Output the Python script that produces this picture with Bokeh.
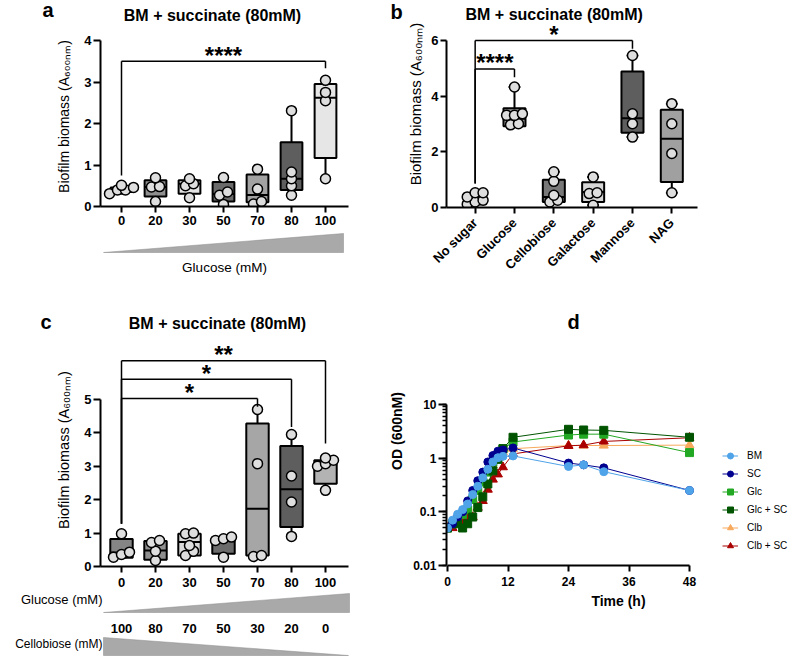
import math
from bokeh.plotting import figure
from bokeh.layouts import column, row
from bokeh.models import (ColumnDataSource, Range1d, FixedTicker, Label, Legend, LegendItem,
                          NumeralTickFormatter)
from bokeh.embed import file_html
from bokeh.resources import INLINE

# ---------------------------------------------------------------- data
TITLE = "BM + succinate (80mM)"
YLABEL = "Biofilm biomass (A\u2086\u2080\u2080\u2099\u2098)"

# panel a : glucose series
a_labels = ["0", "20", "30", "50", "70", "80", "100"]
a_min = [0.31, 0.12, 0.21, 0.05, 0.06, 0.27, 0.67]
a_q1 = [0.35, 0.24, 0.31, 0.12, 0.10, 0.40, 1.17]
a_med = [0.40, 0.47, 0.55, 0.30, 0.28, 0.67, 2.62]
a_q3 = [0.46, 0.63, 0.63, 0.59, 0.77, 1.55, 2.95]
a_max = [0.51, 0.69, 0.67, 0.70, 0.90, 2.31, 3.04]
a_points = [[0.31, 0.40, 0.40, 0.46, 0.51], [0.12, 0.47, 0.48, 0.69],
            [0.21, 0.50, 0.55, 0.67], [0.05, 0.27, 0.35, 0.70],
            [0.06, 0.12, 0.42, 0.90], [0.27, 0.50, 0.67, 0.83, 2.31],
            [0.67, 2.55, 2.75, 3.04]]
a_fill = ["#c8c8c8", "#8f8f8f", "#e3e3e3", "#6b6b6b", "#a3a3a3", "#5e5e5e", "#e6e6e6"]
a_brackets = [(0, 6, 3.50, 0.75, 3.33, "****")]   # from, to, level, left end, right end, text
a_xlabel = "Glucose (mM)"

# panel b : sugars
b_labels = ["No sugar", "Glucose", "Cellobiose", "Galactose", "Mannose", "NAG"]
b_min = [0.12, 2.97, 0.20, 0.08, 2.53, 0.53]
b_q1 = [0.12, 2.92, 0.20, 0.20, 2.69, 0.92]
b_med = [0.29, 3.19, 0.38, 0.56, 3.21, 2.47]
b_q3 = [0.50, 3.57, 1.00, 0.91, 4.89, 3.51]
b_max = [0.53, 4.33, 1.28, 1.10, 5.46, 3.73]
b_points = [[0.12, 0.20, 0.26, 0.38, 0.53, 0.53], [2.97, 3.01, 3.31, 3.31, 3.37, 4.33],
            [0.20, 0.26, 0.44, 0.94, 1.28], [0.08, 0.50, 0.53, 1.10],
            [2.53, 3.01, 3.37, 5.46], [0.53, 1.94, 3.01, 3.73]]
b_fill = ["#6b6b6b", "#9a9a9a", "#787878", "#d6d6d6", "#5e5e5e", "#a0a0a0"]
b_brackets = [(0, 4, 6.00, 0.86, 5.70, "*"), (0, 1, 4.98, 0.86, 4.68, "****")]

# panel c : glucose / cellobiose mixtures
c_glc_labels = ["0", "20", "30", "50", "70", "80", "100"]
c_clb_labels = ["100", "80", "70", "50", "30", "20", "0"]
c_min = [0.28, 0.18, 0.33, 0.28, 0.30, 0.90, 2.28]
c_q1 = [0.26, 0.20, 0.33, 0.38, 0.33, 1.18, 2.48]
c_med = [0.42, 0.48, 0.73, 0.78, 1.73, 2.31, 3.08]
c_q3 = [0.82, 0.76, 0.98, 0.88, 4.28, 3.61, 3.18]
c_max = [0.98, 0.78, 1.00, 0.88, 4.70, 3.95, 3.25]
c_points = [[0.28, 0.36, 0.43, 0.98], [0.18, 0.46, 0.72, 0.78],
            [0.33, 0.46, 0.63, 0.98, 1.00], [0.28, 0.78, 0.83, 0.88],
            [0.30, 0.33, 3.08, 4.70], [0.90, 1.93, 2.71, 3.95],
            [2.28, 3.00, 3.08, 3.18, 3.25]]
c_fill = ["#858585", "#8f8f8f", "#d9d9d9", "#6b6b6b", "#a6a6a6", "#5e5e5e", "#b3b3b3"]
c_brackets = [(0, 4, 5.03, 1.28, 4.78, "*"), (0, 5, 5.61, 1.28, 4.18, "*"),
              (0, 6, 6.16, 1.28, 3.68, "**")]
c_glc_name = "Glucose (mM)"
c_clb_name = "Cellobiose (mM)"

# panel d : growth curves
d_time = [0, 1, 2, 3, 4, 5, 6, 7, 8, 9, 10, 11, 13, 24, 27, 31, 48]
d_BM = [0.05, 0.07, 0.09, 0.11, 0.14, 0.21, 0.30, 0.43, 0.62, 0.85, 1.02, 1.08, 1.10, 0.70, 0.75, 0.56, 0.25]
d_SC = [0.05, 0.06, 0.08, 0.10, 0.16, 0.25, 0.38, 0.55, 0.85, 1.12, 1.35, 1.42, 1.55, 0.81, 0.75, 0.66, 0.25]
d_Glc = [0.05, 0.06, 0.07, 0.09, 0.11, 0.17, 0.25, 0.36, 0.55, 0.85, 1.12, 1.50, 2.00, 2.70, 2.80, 2.80, 1.27]
d_GlcSC = [0.05, 0.06, 0.06, 0.05, 0.06, 0.08, 0.12, 0.19, 0.33, 0.58, 0.95, 1.50, 2.45, 3.45, 3.35, 3.30, 2.45]
d_Clb = [0.05, 0.06, 0.07, 0.09, 0.12, 0.17, 0.26, 0.38, 0.55, 0.75, 1.00, 1.30, 1.50, 1.72, 1.72, 1.72, 1.75]
d_ClbSC = [0.05, 0.05, 0.06, 0.06, 0.08, 0.08, 0.12, 0.16, 0.26, 0.40, 0.50, 0.68, 1.20, 1.70, 1.75, 2.05, 2.40]
d_series = [("BM", d_BM), ("SC", d_SC), ("Glc", d_Glc), ("Glc + SC", d_GlcSC),
            ("Clb", d_Clb), ("Clb + SC", d_ClbSC)]
d_xticks = [0, 12, 24, 36, 48]
d_xlabel = "Time (h)"
d_ylabel = "OD (600nM)"

# ---------------------------------------------------------------- styles / layout
FONT = "Liberation Sans"
D_STYLE = {
    "BM": ("#4fa3e8", "circle", 8),
    "SC": ("#00008f", "circle", 8),
    "Glc": ("#22a822", "square", 8),
    "Glc + SC": ("#005400", "square", 8),
    "Clb": ("#f7a95c", "triangle", 9),
    "Clb + SC": ("#aa0000", "triangle", 9),
}
D_DRAW_ORDER = ["Clb", "Clb + SC", "Glc", "Glc + SC", "SC", "BM"]
WEDGE = "#a9a9a9"

# the page is drawn from its top-left corner (the Bokeh page template has no body margin)
TOTAL_W = 790
R1_C1W = 404                 # top row: column a is wide enough to hold the "b" letter too
R2_C1W = 386
ROW1_TOP, ROW1_BOT = 0, 296
ROW2_TOP, ROW2_BOT = 296, 658


class Geo:
    """Maps page pixels <-> data for a figure whose frame sits at known page pixels."""

    def __init__(self, cx, cy, w, h, L, R, T, B, xr, yr, logy=False):
        self.cx, self.cy, self.w, self.h = cx, cy, w, h
        self.L, self.R, self.T, self.B = L, R, T, B
        self.x0, self.x1 = xr
        self.y0, self.y1 = yr
        self.logy = logy

    def borders(self):
        return dict(min_border_left=self.L - self.cx, min_border_right=self.cx + self.w - self.R,
                    min_border_top=self.T - self.cy, min_border_bottom=self.cy + self.h - self.B)

    def ppx(self):
        return (self.R - self.L) / (self.x1 - self.x0)

    def ppy(self):
        return (self.B - self.T) / (self.y1 - self.y0)

    def fx(self, px):
        return self.x0 + (px - self.L) / (self.R - self.L) * (self.x1 - self.x0)

    def sx(self, v):
        return self.L + (v - self.x0) * self.ppx()

    def fy(self, py):
        t = (self.B - py) / (self.B - self.T)
        if self.logy:
            a, b = math.log10(self.y0), math.log10(self.y1)
            return 10 ** (a + t * (b - a))
        return self.y0 + t * (self.y1 - self.y0)

    def py(self, v):
        return self.B - (v - self.y0) / (self.y1 - self.y0) * (self.B - self.T)


def from_ticks(first_px, last_px, n, L, R):
    step = (last_px - first_px) / (n - 1)
    return (-(first_px - L) / step, (n - 1) + (R - last_px) / step)


def mkfig(g, y_axis_type="linear"):
    p = figure(width=g.w, height=g.h, x_range=Range1d(g.x0, g.x1), y_range=Range1d(g.y0, g.y1),
               y_axis_type=y_axis_type, output_backend="svg", toolbar_location=None,
               title=None, frame_align=False, **g.borders())
    p.outline_line_color = None
    p.xgrid.visible = False
    p.ygrid.visible = False
    p.background_fill_color = "white"
    p.border_fill_color = "white"
    for ax in (p.xaxis[0], p.yaxis[0]):
        ax.axis_line_width = 2
        ax.axis_line_color = "black"
        ax.major_tick_line_width = 2
        ax.major_tick_line_color = "black"
        ax.major_tick_in = 0
        ax.major_tick_out = 6
        ax.minor_tick_line_color = None
        ax.major_label_text_font = FONT
        ax.major_label_text_font_style = "bold"
        ax.major_label_text_font_size = "13px"
        ax.major_label_text_color = "black"
        ax.axis_label_text_font = FONT
        ax.axis_label_text_font_style = "normal"
        ax.axis_label_text_color = "black"
    return p


def deco(cx, cy, w, h):
    """Axis-less strip whose data units are page pixels (y downwards)."""
    p = figure(width=w, height=h, x_range=Range1d(cx, cx + w), y_range=Range1d(cy + h, cy),
               x_axis_type=None, y_axis_type=None, output_backend="svg", toolbar_location=None,
               title=None, min_border=0, frame_align=False)
    p.outline_line_color = None
    p.background_fill_color = "white"
    p.border_fill_color = "white"
    return p


def text(p, x, y, txt, size, bold=False, align="left"):
    p.add_layout(Label(x=x, y=y, text=txt, text_align=align, text_baseline="middle",
                       text_font=FONT, text_font_style="bold" if bold else "normal",
                       text_font_size=size, text_color="black"))


def swarm(vals, ppx, ppy, d=8.0):
    idx = sorted(range(len(vals)), key=lambda k: vals[k])
    rows = []
    for k in idx:
        if rows and (vals[k] - vals[rows[-1][0]]) * ppy < d * 0.8:
            rows[-1].append(k)
        else:
            rows.append([k])
    offs = [0.0] * len(vals)
    for r in rows:
        m = len(r)
        for j, k in enumerate(r):
            offs[k] = (j - (m - 1) / 2) * d / ppx
    return offs


def draw_boxes(p, g, mn, q1, med, q3, mx, pts, fills, bw=0.64, cap=0.32):
    n = len(fills)
    xs = list(range(n))
    src = ColumnDataSource(dict(x=xs, left=[x - bw / 2 for x in xs], right=[x + bw / 2 for x in xs],
                                cl=[x - cap / 2 for x in xs], cr=[x + cap / 2 for x in xs],
                                mn=mn, q1=q1, med=med, q3=q3, mx=mx, fill=fills))
    p.segment(x0="x", y0="mn", x1="x", y1="q1", source=src, line_color="black", line_width=2)
    p.segment(x0="x", y0="q3", x1="x", y1="mx", source=src, line_color="black", line_width=2)
    p.segment(x0="cl", y0="mn", x1="cr", y1="mn", source=src, line_color="black", line_width=2)
    p.segment(x0="cl", y0="mx", x1="cr", y1="mx", source=src, line_color="black", line_width=2)
    p.quad(left="left", right="right", bottom="q1", top="q3", source=src, fill_color="fill",
           line_color="black", line_width=2)
    p.segment(x0="left", y0="med", x1="right", y1="med", source=src, line_color="black", line_width=2)
    px_, py_ = [], []
    for i, vals in enumerate(pts):
        offs = swarm(vals, g.ppx(), g.ppy())
        px_ += [i + o for o in offs]
        py_ += vals
    p.scatter(px_, py_, marker="circle", size=10, fill_color="#dedede", line_color="black",
              line_width=1.5)


def draw_brackets(p, g, brackets, size=24):
    for (i, j, lev, le, re, txt) in brackets:
        p.segment(x0=[i, i, j], y0=[lev, le, re], x1=[j, i, j], y1=[lev, lev, lev],
                  line_color="black", line_width=1.5)
        # asterisks sit high in their line box: put the box middle 6px above the bracket
        p.add_layout(Label(x=(i + j) / 2, y=g.fy(g.py(lev) - 6), text=txt, text_align="center",
                           text_baseline="middle", text_font=FONT, text_font_style="bold",
                           text_font_size=f"{size}px", text_color="black"))


# ---------------------------------------------------------------- panel a
A_HEAD, A_MAIN_BOT = 26, 232
a_head = deco(0, ROW1_TOP, R1_C1W, A_HEAD - ROW1_TOP)
text(a_head, 212, 15, TITLE, "16px", bold=True, align="center")
text(a_head, 42, 9, "a", "20px", bold=True)
text(a_head, 390, 11.5, "b", "20px", bold=True)

ga = Geo(0, A_HEAD, R1_C1W, A_MAIN_BOT - A_HEAD, 100, 348, A_HEAD, 206,
         from_ticks(121, 325, len(a_labels), 100, 348), (0, 4 + (40 - A_HEAD) / 41.5))
pa = mkfig(ga)
draw_boxes(pa, ga, a_min, a_q1, a_med, a_q3, a_max, a_points, a_fill, bw=0.64)
draw_brackets(pa, ga, a_brackets)
pa.xaxis.ticker = FixedTicker(ticks=list(range(len(a_labels))))
pa.xaxis.major_label_overrides = {i: s for i, s in enumerate(a_labels)}
pa.xaxis.major_label_standoff = 3
pa.yaxis.ticker = FixedTicker(ticks=[0, 1, 2, 3, 4])
pa.yaxis.bounds = (0, 4)
pa.yaxis.major_tick_out = 7
pa.yaxis.major_label_standoff = 2
pa.yaxis.axis_label = YLABEL
pa.yaxis.axis_label_text_font_size = "14px"
pa.yaxis.axis_label_standoff = 9

a_foot = deco(0, A_MAIN_BOT, R1_C1W, ROW1_BOT - A_MAIN_BOT)
a_foot.patch([ga.L + 3, ga.R - 5, ga.R - 5], [252, 233, 252], fill_color=WEDGE, line_color="#8a8a8a",
             line_width=0.5)
text(a_foot, (ga.L + ga.R) / 2, 267, a_xlabel, "13.5px", align="center")

col_a = column(a_head, pa, a_foot, spacing=0)

# ---------------------------------------------------------------- panel b
gb = Geo(R1_C1W, ROW1_TOP, TOTAL_W - R1_C1W, ROW1_BOT - ROW1_TOP, 443, 697, ROW1_TOP, 207,
         from_ticks(472, 671, len(b_labels), 443, 697), (0, 6 + (40 - ROW1_TOP) / 27.83))
pb = mkfig(gb)
draw_boxes(pb, gb, b_min, b_q1, b_med, b_q3, b_max, b_points, b_fill, bw=0.56, cap=0.3)
draw_brackets(pb, gb, b_brackets)
pb.add_layout(Label(x=gb.fx(552), y=gb.fy(14), text=TITLE, text_align="center",
                    text_baseline="middle", text_font=FONT, text_font_style="bold",
                    text_font_size="16px", text_color="black"))
pb.xaxis.ticker = FixedTicker(ticks=list(range(len(b_labels))))
pb.xaxis.major_label_overrides = {i: s for i, s in enumerate(b_labels)}
pb.xaxis.major_label_orientation = math.pi / 4
pb.xaxis.major_label_standoff = 7
pb.yaxis.ticker = FixedTicker(ticks=[0, 2, 4, 6])
pb.yaxis.bounds = (0, 6)
pb.yaxis.major_label_standoff = 2
pb.yaxis.axis_label = YLABEL
pb.yaxis.axis_label_text_font_size = "15px"
pb.yaxis.axis_label_standoff = 4

# ---------------------------------------------------------------- panel c
C_HEAD, C_MAIN_BOT = 333, 592
c_head = deco(0, ROW2_TOP, R2_C1W, C_HEAD - ROW2_TOP)
text(c_head, 217, 323, TITLE, "16px", bold=True, align="center")
text(c_head, 40, 321, "c", "20px", bold=True)

gc = Geo(0, C_HEAD, R2_C1W, C_MAIN_BOT - C_HEAD, 100, 348, C_HEAD, 566,
         from_ticks(121, 325, len(c_glc_labels), 100, 348), (0, 5 + (399 - C_HEAD) / 33.4))
pc = mkfig(gc)
draw_boxes(pc, gc, c_min, c_q1, c_med, c_q3, c_max, c_points, c_fill, bw=0.66)
draw_brackets(pc, gc, c_brackets)
pc.xaxis.ticker = FixedTicker(ticks=list(range(len(c_glc_labels))))
pc.xaxis.major_label_overrides = {i: s for i, s in enumerate(c_glc_labels)}
pc.xaxis.major_label_standoff = 5
pc.yaxis.ticker = FixedTicker(ticks=[0, 1, 2, 3, 4, 5])
pc.yaxis.bounds = (0, 5)
pc.yaxis.major_tick_out = 7
pc.yaxis.major_label_standoff = 2
pc.yaxis.axis_label = YLABEL
pc.yaxis.axis_label_text_font_size = "14.5px"
pc.yaxis.axis_label_standoff = 9

c_foot = deco(0, C_MAIN_BOT, R2_C1W, ROW2_BOT - C_MAIN_BOT)
text(c_foot, gc.L + 2, 599, c_glc_name, "13px", align="right")
c_foot.patch([gc.L + 3, gc.R + 1, gc.R + 1], [612, 593, 612], fill_color=WEDGE,
             line_color="#8a8a8a", line_width=0.5)
for i, s in enumerate(c_clb_labels):
    text(c_foot, gc.sx(i), 628, s, "13px", bold=True, align="center")
text(c_foot, gc.L + 2, 643, c_clb_name, "12px", align="right")
c_foot.patch([gc.L + 3, gc.L + 3, gc.R], [637, 655, 655], fill_color=WEDGE,
             line_color="#8a8a8a", line_width=0.5)

col_c = column(c_head, pc, c_foot, spacing=0)

# ---------------------------------------------------------------- panel d
hpx = (689 - 447) / 48.0
dec = (565 - 404) / 3.0
gd = Geo(R2_C1W, ROW2_TOP, TOTAL_W - R2_C1W, ROW2_BOT - ROW2_TOP, 446, TOTAL_W, ROW2_TOP, 565,
         (-(447 - 446) / hpx, 48 + (TOTAL_W - 689) / hpx),
         (0.01, 10 ** (1 + (404 - ROW2_TOP) / dec)), logy=True)
pd_ = mkfig(gd, y_axis_type="log")
renderers = {}
for name in D_DRAW_ORDER:
    vals = dict(d_series)[name]
    col, mk, sz = D_STYLE[name]
    ln = pd_.line(d_time, vals, line_color=col, line_width=1)
    sc = pd_.scatter(d_time, vals, marker=mk, size=sz, fill_color=col, line_color=col)
    renderers[name] = [ln, sc]
legend = Legend(items=[LegendItem(label=name, renderers=renderers[name]) for name, _ in d_series],
                location=(276, 12), orientation="vertical")
legend.glyph_width = 16
legend.glyph_height = 15
legend.label_height = 15
legend.label_standoff = 9
legend.spacing = 3
legend.padding = 0
legend.margin = 0
legend.border_line_color = None
legend.background_fill_alpha = 0
legend.label_text_font = FONT
legend.label_text_font_size = "10px"
legend.label_text_color = "black"
pd_.add_layout(legend)
pd_.xaxis.ticker = FixedTicker(ticks=d_xticks)
pd_.xaxis.bounds = (0, 48)
pd_.xaxis.major_label_standoff = 5
pd_.xaxis.major_label_text_font_size = "12px"
pd_.xaxis.axis_label = d_xlabel
pd_.xaxis.axis_label_text_font_style = "bold"
pd_.xaxis.axis_label_text_font_size = "14px"
pd_.xaxis.axis_label_standoff = 4
pd_.yaxis.bounds = (0.01, 10)
pd_.yaxis.major_tick_out = 8
pd_.yaxis.minor_tick_line_color = "black"
pd_.yaxis.minor_tick_line_width = 1.5
pd_.yaxis.minor_tick_out = 4
pd_.yaxis.minor_tick_in = 0
pd_.yaxis.major_label_standoff = 2
pd_.yaxis.major_label_text_font_size = "12px"
pd_.yaxis.formatter = NumeralTickFormatter(format="0.[00]")
pd_.yaxis.axis_label = d_ylabel
pd_.yaxis.axis_label_text_font_style = "bold"
pd_.yaxis.axis_label_text_font_size = "14px"
pd_.yaxis.axis_label_standoff = 5
pd_.add_layout(Label(x=gd.fx(567), y=gd.fy(321), text="d", text_align="left",
                     text_baseline="middle", text_font=FONT, text_font_style="bold",
                     text_font_size="20px", text_color="black"))

layout = column(row(col_a, pb, spacing=0), row(col_c, pd_, spacing=0), spacing=0)
open("out.html", "w").write(file_html(layout, INLINE))
